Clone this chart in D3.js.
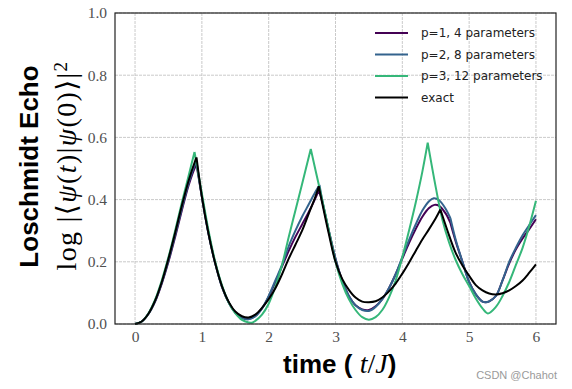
<!DOCTYPE html>
<html>
<head>
<meta charset="utf-8">
<script src="https://cdn.jsdelivr.net/npm/d3@7"></script>
<style>
body { margin: 0; background: #fff; }
svg { display: block; }
</style>
</head>
<body>
<script>

// ticks
var xTicks = [0, 1, 2, 3, 4, 5, 6];
var yTicks = [0, 0.2, 0.4, 0.6, 0.8, 1.0];

// series names + colours (viridis picks, exact in black)
var seriesNames = ["p=1, 4 parameters", "p=2, 8 parameters", "p=3, 12 parameters", "exact"];
var seriesColors = ["#440154", "#33638d", "#35b779", "#000000"];

// p=1
var tP1 = [0,0.1,0.2,0.3,0.4,0.5,0.6,0.7,0.8,0.9,0.92,1.0,1.1,1.2,1.3,1.4,1.5,1.6,1.7,1.8,1.9,2.0,2.1,2.2,2.3,2.4,2.5,2.6,2.7,2.75,2.8,2.9,3.0,3.1,3.2,3.3,3.4,3.5,3.6,3.7,3.8,3.9,4.0,4.1,4.2,4.3,4.4,4.48,4.55,4.65,4.72,4.8,4.9,5.0,5.1,5.2,5.25,5.3,5.4,5.5,5.6,5.7,5.8,5.9,6.0];
var vP1 = [0,0.008,0.032,0.072,0.13,0.2,0.28,0.365,0.445,0.505,0.512,0.41,0.29,0.195,0.12,0.07,0.037,0.02,0.016,0.026,0.05,0.088,0.135,0.185,0.235,0.28,0.32,0.36,0.405,0.43,0.395,0.3,0.21,0.14,0.09,0.06,0.047,0.045,0.057,0.08,0.115,0.16,0.21,0.26,0.305,0.345,0.373,0.383,0.38,0.355,0.325,0.265,0.2,0.135,0.095,0.072,0.07,0.073,0.09,0.14,0.195,0.24,0.275,0.305,0.337];
var cuspP1 = [0.92, 2.75, 4.72];

// p=2
var tP2 = [0,0.1,0.2,0.3,0.4,0.5,0.6,0.7,0.8,0.9,0.92,1.0,1.1,1.2,1.3,1.4,1.5,1.6,1.7,1.8,1.9,2.0,2.1,2.2,2.3,2.4,2.5,2.6,2.7,2.76,2.8,2.9,3.0,3.1,3.2,3.3,3.4,3.5,3.6,3.7,3.8,3.9,4.0,4.1,4.2,4.3,4.4,4.47,4.55,4.65,4.72,4.8,4.9,5.0,5.1,5.2,5.25,5.3,5.4,5.5,5.6,5.7,5.8,5.9,6.0];
var vP2 = [0,0.008,0.033,0.074,0.133,0.205,0.287,0.372,0.452,0.515,0.522,0.41,0.29,0.195,0.12,0.07,0.037,0.02,0.015,0.025,0.05,0.09,0.14,0.19,0.25,0.3,0.345,0.385,0.425,0.447,0.4,0.3,0.21,0.14,0.09,0.06,0.045,0.042,0.055,0.08,0.115,0.16,0.215,0.27,0.32,0.365,0.395,0.404,0.398,0.37,0.34,0.27,0.2,0.135,0.095,0.072,0.07,0.073,0.09,0.14,0.2,0.245,0.285,0.318,0.35];
var cuspP2 = [0.92, 2.76, 4.72];

// p=3
var tP3 = [0,0.1,0.2,0.3,0.4,0.5,0.6,0.7,0.8,0.89,1.0,1.1,1.2,1.3,1.4,1.5,1.6,1.7,1.75,1.8,1.9,2.0,2.1,2.2,2.3,2.4,2.5,2.63,2.7,2.8,2.9,3.0,3.1,3.2,3.3,3.4,3.5,3.6,3.7,3.8,3.9,4.0,4.1,4.2,4.3,4.38,4.5,4.6,4.7,4.8,4.9,5.0,5.1,5.2,5.28,5.4,5.5,5.6,5.7,5.8,5.9,6.0];
var vP3 = [0,0.008,0.034,0.078,0.14,0.215,0.3,0.39,0.475,0.553,0.42,0.3,0.2,0.125,0.07,0.035,0.013,0.005,0.004,0.01,0.03,0.065,0.12,0.19,0.28,0.365,0.45,0.563,0.495,0.4,0.3,0.2,0.13,0.08,0.045,0.022,0.014,0.022,0.045,0.085,0.14,0.215,0.3,0.39,0.49,0.583,0.44,0.335,0.262,0.205,0.16,0.122,0.082,0.05,0.034,0.055,0.09,0.135,0.19,0.245,0.315,0.396];
var cuspP3 = [0.89, 2.63, 4.38];

// exact
var tExact = [0,0.1,0.2,0.3,0.4,0.5,0.6,0.7,0.8,0.9,0.92,1.0,1.1,1.2,1.3,1.4,1.5,1.6,1.7,1.8,1.9,2.0,2.1,2.2,2.3,2.4,2.5,2.6,2.7,2.75,2.8,2.9,3.0,3.1,3.2,3.3,3.4,3.5,3.6,3.7,3.8,3.9,4.0,4.1,4.2,4.3,4.4,4.5,4.57,4.7,4.8,4.9,5.0,5.1,5.2,5.3,5.4,5.5,5.6,5.7,5.8,5.9,6.0];
var vExact = [0,0.008,0.033,0.075,0.135,0.21,0.293,0.38,0.46,0.525,0.536,0.41,0.29,0.195,0.122,0.072,0.04,0.025,0.021,0.03,0.052,0.08,0.115,0.16,0.21,0.255,0.3,0.355,0.41,0.443,0.39,0.29,0.2,0.145,0.11,0.085,0.072,0.07,0.073,0.085,0.105,0.13,0.162,0.197,0.235,0.272,0.305,0.34,0.368,0.285,0.228,0.188,0.155,0.125,0.108,0.098,0.095,0.099,0.108,0.122,0.14,0.165,0.192];
var cuspExact = [0.92, 2.75, 4.57];

var allT = [tP1, tP2, tP3, tExact];
var allV = [vP1, vP2, vP3, vExact];
var allCusps = [cuspP1, cuspP2, cuspP3, cuspExact];

//Width and height
var w = 572;
var h = 389;

var x = d3.scaleLinear().domain([-0.3, 6.3]).range([115, 556]);
var y = d3.scaleLinear().domain([0, 1]).range([324, 13]);

var svg = d3.select("body")
	.append("svg")
	.attr("width", w)
	.attr("height", h);

// grid
var grid = svg.append("g");
grid.selectAll("line.vx")
	.data(xTicks)
	.enter()
	.append("line")
	.attr("x1", function(d){ return x(d); })
	.attr("x2", function(d){ return x(d); })
	.attr("y1", y(1))
	.attr("y2", y(0))
	.style("stroke", "#c4c4c4")
	.style("stroke-width", 0.9)
	.style("stroke-dasharray", "3,1");
grid.selectAll("line.hy")
	.data(yTicks)
	.enter()
	.append("line")
	.attr("x1", x(-0.3))
	.attr("x2", x(6.3))
	.attr("y1", function(d){ return y(d); })
	.attr("y2", function(d){ return y(d); })
	.style("stroke", "#c4c4c4")
	.style("stroke-width", 0.9)
	.style("stroke-dasharray", "3,1");

// curves, split at the cusps so peaks stay sharp
var line = d3.line()
	.x(function(d){ return x(d[0]); })
	.y(function(d){ return y(d[1]); })
	.curve(d3.curveCatmullRom.alpha(0.5));

function segments(ts, vs, cusps) {
	var segs = [];
	var cur = [];
	for (var i = 0; i < ts.length; i++) {
		cur.push([ts[i], vs[i]]);
		if (cusps.indexOf(ts[i]) >= 0) {
			segs.push(cur);
			cur = [[ts[i], vs[i]]];
		}
	}
	segs.push(cur);
	return segs;
}

var layerLines = svg.append("g");
for (var s = 0; s < 4; s++) {
	var d = segments(allT[s], allV[s], allCusps[s]).map(function(seg){ return line(seg); }).join("");
	layerLines.append("path")
		.attr("d", d)
		.style("fill", "none")
		.style("stroke", seriesColors[s])
		.style("stroke-width", 2)
		.style("stroke-linejoin", "round");
}

// frame
svg.append("rect")
	.attr("x", x(-0.3))
	.attr("y", y(1))
	.attr("width", x(6.3) - x(-0.3))
	.attr("height", y(0) - y(1))
	.style("fill", "none")
	.style("stroke", "#222")
	.style("stroke-width", 1.2);

// axes
var xAxis = svg.append("g")
	.attr("transform", "translate(0," + y(0) + ")")
	.call(d3.axisBottom(x).tickValues(xTicks).tickSize(0).tickPadding(7).tickFormat(d3.format("d")));
var yAxis = svg.append("g")
	.attr("transform", "translate(" + x(-0.3) + ",0)")
	.call(d3.axisLeft(y).tickValues(yTicks).tickSize(0).tickPadding(8).tickFormat(d3.format(".1f")));
[xAxis, yAxis].forEach(function(a){
	a.select(".domain").remove();
	a.selectAll("text")
		.style("font-family", "'Liberation Serif', serif")
		.style("font-size", "15.5px")
		.style("fill", "#505050");
});

// y labels
svg.append("text")
	.attr("transform", "translate(38,166.5) rotate(-90)")
	.attr("text-anchor", "middle")
	.style("font-family", "'Liberation Sans', Arial, sans-serif")
	.style("font-weight", "bold")
	.style("font-size", "26px")
	.text("Loschmidt Echo");

var math = svg.append("text")
	.attr("transform", "translate(76,165.5) rotate(-90)")
	.attr("text-anchor", "middle")
	.style("font-family", "'Liberation Serif', 'DejaVu Serif', serif")
	.style("font-size", "28px")
	.style("letter-spacing", "1.4px");
math.append("tspan").text("log |\u27E8");
math.append("tspan").style("font-style", "italic").text("\u03C8");
math.append("tspan").text("(");
math.append("tspan").style("font-style", "italic").text("t");
math.append("tspan").text(")|");
math.append("tspan").style("font-style", "italic").text("\u03C8");
math.append("tspan").text("(0)\u27E9|");
math.append("tspan").attr("dy", "-0.45em").style("font-size", "19px").text("2");

// x label
var xl = svg.append("text")
	.attr("x", 339.7)
	.attr("y", 373)
	.attr("text-anchor", "middle")
	.style("font-family", "'Liberation Sans', Arial, sans-serif")
	.style("font-weight", "bold")
	.style("font-size", "26px");
xl.append("tspan").text("time ( ");
xl.append("tspan")
	.style("font-family", "'Liberation Serif', 'DejaVu Serif', serif")
	.style("font-weight", "normal")
	.style("font-size", "28px")
	.html("<tspan style='font-style:italic'>t</tspan>/<tspan style='font-style:italic'>J</tspan>");
xl.append("tspan").text(")");

// legend
var legend = svg.append("g");
seriesNames.forEach(function(n, i){
	var ly = 33 + i * 21.5;
	legend.append("line")
		.attr("x1", 375).attr("x2", 408)
		.attr("y1", ly).attr("y2", ly)
		.style("stroke", seriesColors[i])
		.style("stroke-width", 2);
	legend.append("text")
		.attr("x", 421)
		.attr("y", ly)
		.attr("dy", "0.35em")
		.style("font-family", "'DejaVu Sans', sans-serif")
		.style("font-size", "12px")
		.style("fill", "#222")
		.text(n);
});

// watermark
svg.append("text")
	.attr("x", 557)
	.attr("y", 379)
	.attr("text-anchor", "end")
	.style("font-family", "'Liberation Sans', Arial, sans-serif")
	.style("font-size", "11px")
	.style("fill", "#9a9a9a")
	.text("CSDN @Chahot");

</script>
</body>
</html>
